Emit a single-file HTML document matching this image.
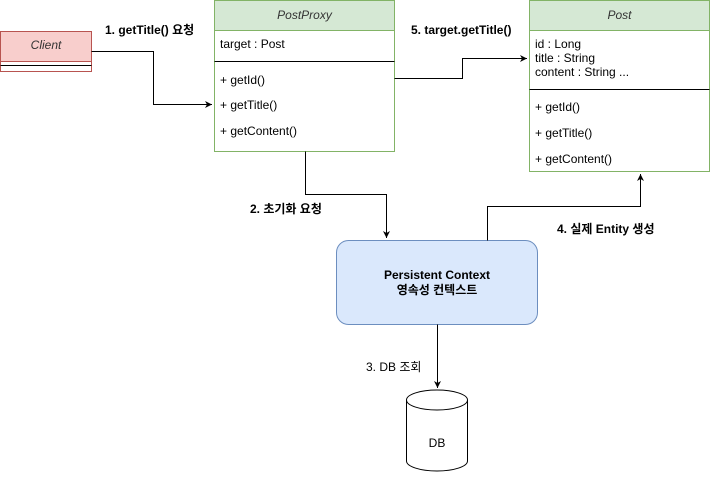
<!DOCTYPE html>
<html><head><meta charset="utf-8"><style>
body{margin:0;background:#fff;}
svg text{font-family:"Liberation Sans","Noto Sans CJK KR",sans-serif;font-size:12px;fill:#000;}
.b{font-weight:bold;}
.i{font-style:italic;fill:#333;}
</style></head><body>
<svg width="721" height="482" viewBox="0 0 721 482" xmlns="http://www.w3.org/2000/svg">
<defs>
<marker id="a" markerWidth="8" markerHeight="8" refX="7" refY="4" orient="auto" markerUnits="userSpaceOnUse">
<path d="M0,0.5 L7,4 L0,7.5 L2,4 Z" fill="#000"/></marker>
</defs>
<rect x="0.5" y="31.5" width="91" height="40" fill="#f8cecc" stroke="#b85450"/>
<rect x="0.5" y="61.5" width="91" height="10" fill="#fff" stroke="#b85450"/>
<line x1="0.5" y1="65.5" x2="91.5" y2="65.5" stroke="#000"/>
<text x="46" y="49" text-anchor="middle" class="i">Client</text>
<rect x="214.5" y="0.5" width="180" height="151" fill="#fff" stroke="#82b366"/>
<rect x="214.5" y="0.5" width="180" height="30" fill="#d5e8d4" stroke="#82b366"/>
<text x="304.5" y="19" text-anchor="middle" class="i">PostProxy</text>
<text x="220" y="48">target : Post</text>
<line x1="214.5" y1="61.5" x2="394.5" y2="61.5" stroke="#000"/>
<text x="220" y="84">+ getId()</text>
<text x="220" y="109">+ getTitle()</text>
<text x="220" y="135">+ getContent()</text>
<rect x="529.5" y="0.5" width="180" height="171" fill="#fff" stroke="#82b366"/>
<rect x="529.5" y="0.5" width="180" height="30" fill="#d5e8d4" stroke="#82b366"/>
<text x="619.5" y="19" text-anchor="middle" class="i">Post</text>
<text x="535" y="48">id : Long</text>
<text x="535" y="62">title : String</text>
<text x="535" y="76">content : String ...</text>
<line x1="529.5" y1="89.5" x2="709.5" y2="89.5" stroke="#000"/>
<text x="535" y="111">+ getId()</text>
<text x="535" y="137">+ getTitle()</text>
<text x="535" y="163">+ getContent()</text>
<rect x="336.5" y="240.5" width="201" height="84" rx="12" fill="#dae8fc" stroke="#6c8ebf"/>
<text x="437" y="279" text-anchor="middle" class="b">Persistent Context</text>
<text x="437" y="294" text-anchor="middle" class="b">영속성 컨텍스트</text>
<path d="M406.5,400 A30.5,10 0 0 1 467.5,400 L467.5,461 A30.5,10 0 0 1 406.5,461 Z" fill="#fff" stroke="#000"/>
<path d="M406.5,400 A30.5,10 0 0 0 467.5,400" fill="none" stroke="#000"/>
<text x="437" y="447" text-anchor="middle">DB</text>
<g fill="none" stroke="#000" stroke-width="1">
<path d="M91.5,51.5 H153.5 V104.5 H212" marker-end="url(#a)"/>
<path d="M394.5,78.5 H462.5 V58.5 H527" marker-end="url(#a)"/>
<path d="M305.5,151.5 V194.5 H386.5 V238" marker-end="url(#a)"/>
<path d="M487.5,240.5 V206.5 H640.5 V174" marker-end="url(#a)"/>
<path d="M437.5,324.5 V388" marker-end="url(#a)"/>
</g>
<text x="105" y="34" class="b">1. getTitle() 요청</text>
<text x="411" y="34" class="b">5. target.getTitle()</text>
<text x="250" y="213" class="b">2. 초기화 요청</text>
<text x="557" y="233" class="b">4. 실제 Entity 생성</text>
<text x="366" y="371">3. DB 조회</text>
</svg>
</body></html>
